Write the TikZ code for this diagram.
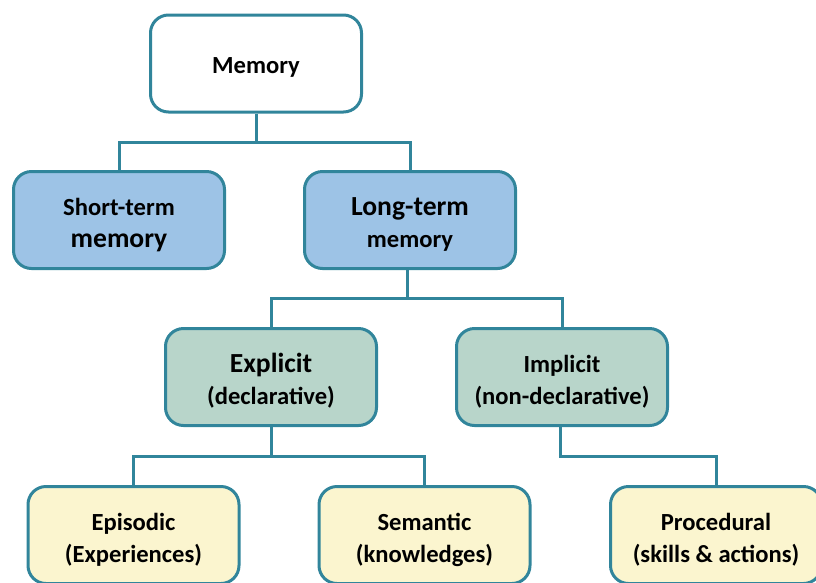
\documentclass[tikz,border=0pt]{standalone}
\usepackage{fontspec}
\setmainfont{Carlito}
\definecolor{edge}{HTML}{31859B}
\definecolor{bluefill}{HTML}{9DC3E6}
\definecolor{greenfill}{HTML}{B8D5CA}
\definecolor{yellowfill}{HTML}{FBF5CF}
\newcommand{\bigtxt}[1]{{\fontsize{27.6}{32}\selectfont #1}}
\newcommand{\twoline}[2]{\rule{0pt}{27pt}#1\\#2}
\tikzset{
  box/.style={draw=edge, line width=3pt, rounded corners=18pt, minimum width=211pt, minimum height=97pt,
    align=center, font=\bfseries\fontsize{24.6}{32}\selectfont, inner sep=0pt},
  wbox/.style={box, fill=white},
  bbox/.style={box, fill=bluefill},
  gbox/.style={box, fill=greenfill},
  ybox/.style={box, fill=yellowfill},
  conn/.style={draw=edge, line width=3pt}
}
\begin{document}
\begin{tikzpicture}[x=1pt,y=-1pt]
\useasboundingbox (0,0) rectangle (816,582);
\node[wbox] (mem) at (256,63.5) {\rule{0pt}{23pt}Memory};
\node[bbox] (st) at (119,220) {\twoline{Short-term}{\bigtxt{memory}}};
\node[bbox] (lt) at (410,220) {\twoline{\bigtxt{Long-term}}{memory}};
\node[gbox] (ex) at (271,377) {\twoline{\bigtxt{Explicit}}{(declarative)}};
\node[gbox] (im) at (562,377) {\twoline{Implicit}{(non-declarative)}};
\node[ybox] (ep) at (133.5,535) {\twoline{Episodic}{(Experiences)}};
\node[ybox] (se) at (424.5,535) {\twoline{Semantic}{(knowledges)}};
\node[ybox] (pr) at (716,535) {\twoline{Procedural}{(skills \& actions)}};
\coordinate (j1) at (256,142);
\coordinate (j2) at (407,298);
\coordinate (j3) at (271,456);
\coordinate (j4) at (560,456);
\draw[conn] (mem.south) -- (j1);
\draw[conn] (st.north) |- (j1) -| (lt.north);
\draw[conn] (lt.south -| j2) -- (j2);
\draw[conn] (ex.north) |- (j2) -| (im.north);
\draw[conn] (ex.south) -- (j3);
\draw[conn] (ep.north) |- (j3) -| (se.north);
\draw[conn] (im.south -| j4) -- (j4) -| (pr.north);
\end{tikzpicture}
\end{document}
